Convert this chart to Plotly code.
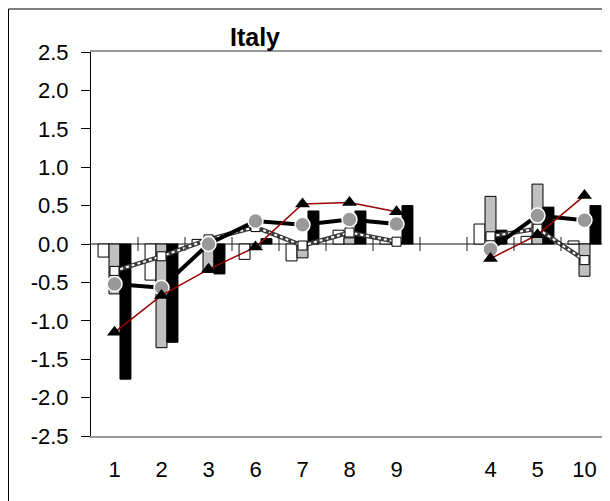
import plotly.graph_objects as go

# ---- data ----
categories = ["1", "2", "3", "6", "7", "8", "9", "", "4", "5", "10"]

bar_white = [-0.17, -0.47, 0.06, -0.20, -0.22, 0.18, 0.05, None, 0.26, 0.10, 0.04]
bar_gray = [-0.65, -1.35, -0.37, -0.05, -0.18, 0.08, 0.02, None, 0.62, 0.78, -0.42]
bar_black = [-1.76, -1.28, -0.39, 0.07, 0.43, 0.43, 0.50, None, 0.18, 0.48, 0.50]

line_square = [-0.35, -0.16, 0.06, 0.22, -0.02, 0.15, 0.03, None, 0.10, 0.20, -0.21]
line_circle = [-0.52, -0.57, 0.00, 0.30, 0.25, 0.32, 0.26, None, -0.07, 0.37, 0.31]
line_triangle = [-1.15, -0.67, -0.33, -0.04, 0.52, 0.54, 0.42, None, -0.19, 0.12, 0.63]

y_ticks = [-2.5, -2.0, -1.5, -1.0, -0.5, 0.0, 0.5, 1.0, 1.5, 2.0, 2.5]
y_tick_labels = ["-2.5", "-2.0", "-1.5", "-1.0", "-0.5", "0.0", "0.5", "1.0", "1.5", "2.0", "2.5"]

FONT = "Liberation Sans, Arial, sans-serif"
x = list(range(len(categories)))

# figure sits inside the page body (8px default margin)
W, H = 602, 493
L, T, PW, PH = 83, 44, 519, 384

fig = go.Figure()

for vals, color in ((bar_white, "white"), (bar_gray, "#C0C0C0"), (bar_black, "black")):
    fig.add_bar(x=x, y=vals, marker=dict(color=color, line=dict(color="black", width=1)),
                showlegend=False, hoverinfo="skip")

# checkered thick line with white squares
fig.add_scatter(x=x, y=line_square, mode="lines", connectgaps=False,
                line=dict(color="#3a3a3a", width=4.5), showlegend=False, hoverinfo="skip")
fig.add_scatter(x=x, y=line_square, mode="lines+markers", connectgaps=False,
                line=dict(color="white", width=2, dash="dot"),
                marker=dict(symbol="square", size=9, color="white", line=dict(color="black", width=1)),
                showlegend=False, hoverinfo="skip")
# thick black line with grey circles
fig.add_scatter(x=x, y=line_circle, mode="lines+markers", connectgaps=False,
                line=dict(color="black", width=4),
                marker=dict(symbol="circle", size=15, color="#999999", line=dict(color="white", width=1.5)),
                showlegend=False, hoverinfo="skip")
# thin dark red line with black triangles
fig.add_scatter(x=x, y=line_triangle, mode="lines+markers", connectgaps=False,
                line=dict(color="#990000", width=1.5),
                marker=dict(symbol="triangle-up", size=13, color="black"),
                showlegend=False, hoverinfo="skip")

# small crossing ticks on the zero line at category boundaries
for i in range(len(categories)):
    fig.add_shape(type="line", xref="x", yref="y", x0=i + 0.5, x1=i + 0.5,
                  ysizemode="pixel", yanchor=0, y0=-7, y1=7,
                  line=dict(color="#222222", width=1))

# outer chart frame
fig.add_shape(type="rect", xref="paper", yref="paper",
              x0=(0.5 - L) / PW, x1=1.3, y0=-0.4, y1=(T + PH - 1) / PH,
              line=dict(color="black", width=1), fillcolor="rgba(0,0,0,0)", layer="above")

fig.update_layout(
    width=W, height=H,
    margin=dict(l=L, r=W - L - PW, t=T, b=H - T - PH, pad=0, autoexpand=False),
    plot_bgcolor="white", paper_bgcolor="white",
    barmode="group", bargap=0.3, bargroupgap=0,
    font=dict(family=FONT, size=22, color="black"),
    title=dict(text="<b>Italy</b>", x=247 / W, xanchor="center",
               y=1 - 29 / H, yanchor="middle", font=dict(family=FONT, size=25, color="black")),
    xaxis=dict(range=[-0.5, -0.5 + PW / 47], tickmode="array", tickvals=x, ticktext=categories,
               showline=True, linecolor="#999999", linewidth=1.5, mirror=True, automargin=False,
               ticks="outside", ticklen=13, tickcolor="rgba(0,0,0,0)",
               showgrid=False, zeroline=False, tickfont=dict(family=FONT, size=22, color="black")),
    yaxis=dict(range=[-2.5, 2.5], tickmode="array", tickvals=y_ticks, ticktext=y_tick_labels,
               showline=True, linecolor="black", linewidth=1, automargin=False,
               ticks="outside", ticklen=9, tickcolor="black",
               showgrid=False, zeroline=True, zerolinecolor="#888888", zerolinewidth=1.5,
               ticklabelstandoff=8,
               tickfont=dict(family=FONT, size=22, color="black")),
)

fig.write_html("out.html")
